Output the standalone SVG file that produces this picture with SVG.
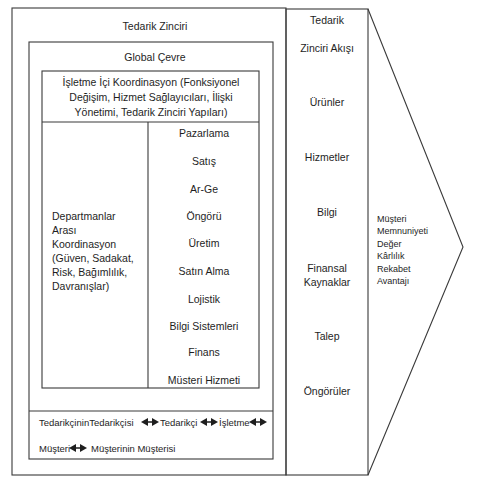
<svg xmlns="http://www.w3.org/2000/svg" width="497" height="492" viewBox="0 0 497 492">
<style>
.box{fill:none;stroke:#3a3a3a;stroke-width:1.1}
.t{font-family:"Liberation Sans",Arial,sans-serif;font-size:10.5px;fill:#1e1e1e}
.c{text-anchor:middle}
.s{font-size:9.5px}
.xs{font-size:9px}
.arr{fill:#1e1e1e;stroke:none}
</style>
<defs>
<path id="dbl" class="arr" d="M0,0 L7,-4 L7,-0.8 L11,-0.8 L11,-4 L18,0 L11,4 L11,0.8 L7,0.8 L7,4 Z"/>
</defs>
<rect x="0" y="0" width="497" height="492" fill="#ffffff"/>

<g id="tedarik-zinciri">
<rect class="box" x="12" y="8" width="274" height="467"/>
<text class="t c" x="155" y="30">Tedarik Zinciri</text>
</g>

<g id="global-cevre">
<rect class="box" x="29" y="42" width="244" height="417"/>
<text class="t c" x="155" y="61">Global Çevre</text>
</g>

<g id="isletme-ici">
<rect class="box" x="42" y="71" width="217" height="317"/>
<line class="box" x1="42" y1="122" x2="259" y2="122"/>
<text class="t c" x="151" y="86">İşletme İçi Koordinasyon (Fonksiyonel</text>
<text class="t c" x="151" y="101">Değişim, Hizmet Sağlayıcıları, İlişki</text>
<text class="t c" x="151" y="116">Yönetimi, Tedarik Zinciri Yapıları)</text>
</g>

<g id="departmanlar">
<line class="box" x1="148" y1="122" x2="148" y2="388"/>
<text class="t" x="52" y="220">Departmanlar</text>
<text class="t" x="52" y="234">Arası</text>
<text class="t" x="52" y="248">Koordinasyon</text>
<text class="t" x="52" y="262">(Güven, Sadakat,</text>
<text class="t" x="52" y="276">Risk, Bağımlılık,</text>
<text class="t" x="52" y="290">Davranışlar)</text>
</g>

<g id="fonksiyonlar">
<text class="t c" x="204" y="137">Pazarlama</text>
<text class="t c" x="204" y="165">Satış</text>
<text class="t c" x="204" y="193">Ar-Ge</text>
<text class="t c" x="204" y="220">Öngörü</text>
<text class="t c" x="204" y="247">Üretim</text>
<text class="t c" x="204" y="275">Satın Alma</text>
<text class="t c" x="204" y="303">Lojistik</text>
<text class="t c" x="204" y="330">Bilgi Sistemleri</text>
<text class="t c" x="204" y="356">Finans</text>
<text class="t c" x="204" y="384">Müsteri Hizmeti</text>
</g>

<g id="zincir-uyeleri">
<line class="box" x1="29" y1="411" x2="273" y2="411"/>
<text class="t s" x="39" y="426">TedarikçininTedarikçisi</text>
<text class="t s" x="160" y="426">Tedarikçi</text>
<text class="t s" x="219" y="426">İşletme</text>
<text class="t s" x="39" y="452">Müşteri</text>
<text class="t s" x="91" y="452">Müşterinin Müşterisi</text>
</g>

<g id="akis">
<rect class="box" x="286" y="9" width="82" height="466"/>
<text class="t c" x="327" y="24">Tedarik</text>
<text class="t c" x="327" y="52">Zinciri Akışı</text>
<text class="t c" x="327" y="106">Ürünler</text>
<text class="t c" x="327" y="161">Hizmetler</text>
<text class="t c" x="327" y="216">Bilgi</text>
<text class="t c" x="327" y="272">Finansal</text>
<text class="t c" x="327" y="286">Kaynaklar</text>
<text class="t c" x="327" y="340">Talep</text>
<text class="t c" x="327" y="395">Öngörüler</text>
</g>

<g id="sonuc">
<polyline class="box" points="368,9 463,247 368,475"/>
<text class="t xs" x="377" y="222">Müşteri</text>
<text class="t xs" x="377" y="234">Memnuniyeti</text>
<text class="t xs" x="377" y="247">Değer</text>
<text class="t xs" x="377" y="259">Kârlılık</text>
<text class="t xs" x="377" y="272">Rekabet</text>
<text class="t xs" x="377" y="284">Avantajı</text>
</g>

<g id="connectors">
<use href="#dbl" x="141" y="422"/>
<use href="#dbl" x="200" y="422"/>
<use href="#dbl" x="249" y="422"/>
<use href="#dbl" x="69" y="448"/>
</g>
</svg>
